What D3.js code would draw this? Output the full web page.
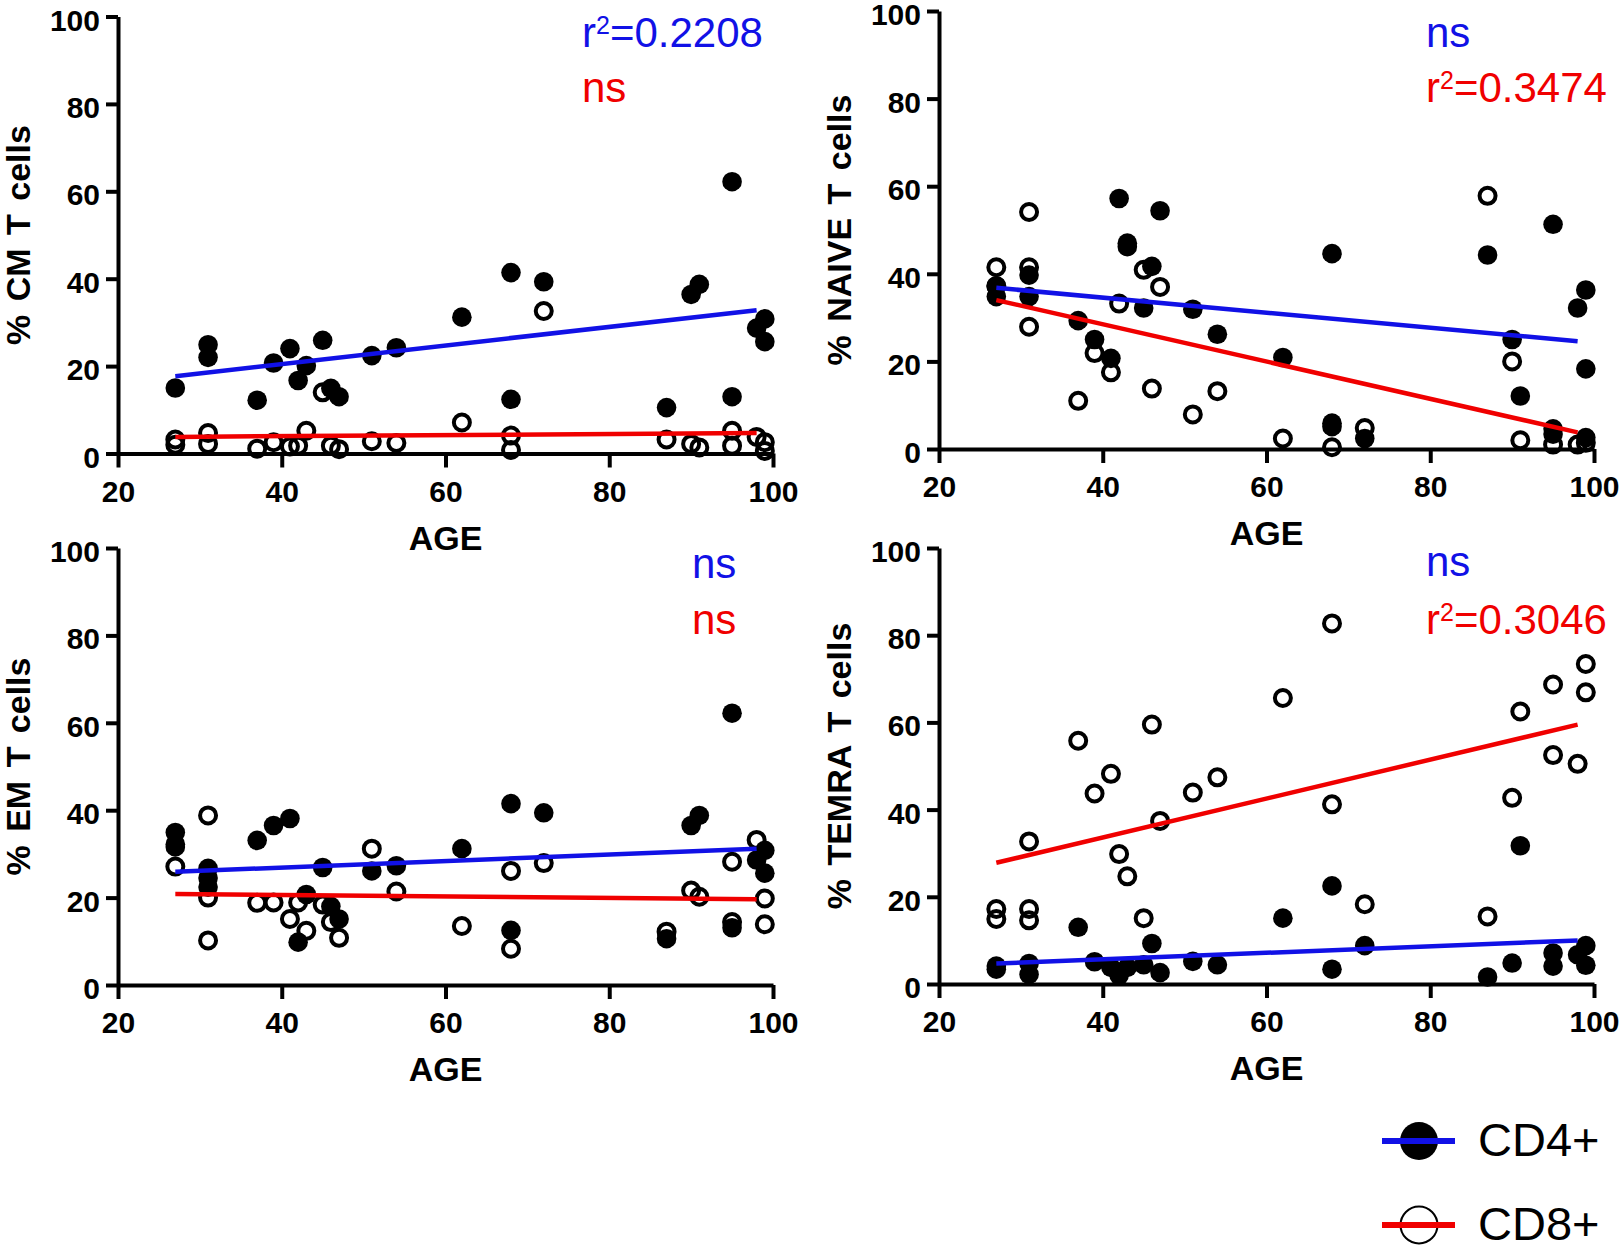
<!DOCTYPE html>
<html><head><meta charset="utf-8">
<script src="https://cdn.jsdelivr.net/npm/d3@7"></script>
<style>
body{margin:0;background:#fff}
svg{display:block}
text{font-family:"Liberation Sans",Arial,Helvetica,sans-serif}
</style>
</head><body>
<svg id="c" width="1622" height="1246"></svg>
<script>
// ---------- DATA ----------
const ageTicks = [20, 40, 60, 80, 100];
const pctTicks = [0, 20, 40, 60, 80, 100];
const xTitle = "AGE";
const yTitles = ["% CM T cells", "% NAIVE T cells", "% EM T cells", "% TEMRA T cells"];
const seriesNames = ["CD4+", "CD8+"];

// [age, %] pairs, CD4+ (filled) and CD8+ (open)
const cmCD4 = [[27,15.0],[31,24.9],[31,22.0],[37,12.2],[39,20.7],[41,24.0],[42,16.7],[43,20.1],[45,25.9],[46,14.9],[47,13.0],[51,22.4],[54,24.2],[62,31.2],[68,41.4],[68,12.4],[72,39.3],[87,10.5],[90,36.4],[91,38.7],[95,62.2],[95,13.0],[98,28.7],[99,30.8],[99,25.6]];
const cmCD8 = [[27,3.2],[27,2.0],[31,4.7],[31,2.2],[37,1.1],[39,2.6],[41,1.6],[42,1.8],[43,5.2],[45,14.0],[46,1.8],[47,1.0],[51,2.8],[54,2.4],[62,7.1],[68,4.1],[68,0.8],[72,32.6],[87,3.2],[90,2.2],[91,1.4],[95,5.2],[95,1.8],[98,3.8],[99,2.6],[99,0.6]];
const naiveCD4 = [[27,37.2],[27,34.8],[31,39.7],[31,34.8],[37,29.3],[39,25.0],[41,20.7],[42,57.2],[43,47.0],[43,46.2],[45,32.2],[46,41.7],[47,54.4],[51,31.9],[54,26.2],[62,20.9],[68,44.6],[68,5.9],[68,5.1],[72,2.4],[87,44.3],[90,25.0],[91,12.1],[95,51.3],[95,4.6],[95,3.4],[98,32.2],[99,36.3],[99,18.3],[99,2.6]];
const naiveCD8 = [[27,41.5],[27,37.2],[31,54.1],[31,41.5],[31,27.9],[37,11.0],[39,21.9],[41,17.5],[42,33.2],[45,40.9],[46,13.8],[47,37.0],[51,7.9],[54,13.2],[62,2.4],[68,0.4],[72,4.8],[87,57.8],[90,20.0],[91,2.0],[95,1.0],[98,1.0],[99,1.4]];
const emCD4 = [[27,34.9],[27,32.2],[27,31.6],[31,26.7],[31,24.5],[31,22.4],[37,33.1],[39,36.5],[41,38.1],[42,9.8],[43,20.7],[45,26.9],[46,18.0],[47,15.1],[51,26.1],[54,27.3],[62,31.2],[68,41.5],[68,12.5],[72,39.4],[87,10.6],[90,36.5],[91,38.8],[95,62.2],[95,13.1],[98,28.6],[99,30.8],[99,25.6]];
const emCD8 = [[27,27.1],[31,38.8],[31,20.0],[31,10.2],[37,18.8],[39,18.9],[41,15.1],[42,18.9],[43,12.4],[45,18.4],[46,14.4],[47,10.8],[51,31.2],[54,21.4],[62,13.5],[68,26.1],[68,8.3],[72,27.9],[87,12.2],[90,21.6],[91,20.2],[95,28.2],[95,14.4],[98,33.2],[99,19.8],[99,13.9]];
const temraCD4 = [[27,4.1],[27,3.4],[31,4.7],[31,2.2],[37,13.0],[39,5.1],[41,3.8],[42,2.0],[43,3.8],[45,4.4],[46,9.3],[47,2.6],[51,5.2],[54,4.4],[62,15.1],[68,22.5],[68,3.4],[72,8.8],[87,1.6],[90,4.8],[91,31.7],[95,7.1],[95,4.1],[98,6.7],[99,8.8],[99,4.3]];
const temraCD8 = [[27,17.2],[27,14.9],[31,17.2],[31,14.6],[31,32.7],[37,55.8],[39,43.7],[41,48.2],[42,29.8],[43,24.7],[45,15.1],[46,59.5],[47,37.4],[51,43.9],[54,47.4],[62,65.6],[68,82.7],[68,41.2],[72,18.3],[87,15.5],[90,42.7],[91,62.5],[95,68.7],[95,52.5],[98,50.5],[99,73.4],[99,66.9]];

// regression line end points [age, %]
const cmFitCD4 = [[27,17.7],[98,32.8]];
const cmFitCD8 = [[27,3.8],[98,4.7]];
const naiveFitCD4 = [[27,36.8],[98,24.6]];
const naiveFitCD8 = [[27,34.0],[98,3.8]];
const emFitCD4 = [[27,25.9],[98,31.2]];
const emFitCD8 = [[27,20.8],[98,19.6]];
const temraFitCD4 = [[27,4.7],[98,10.0]];
const temraFitCD8 = [[27,27.8],[98,59.5]];

// significance labels [CD4+, CD8+]
const cmStats = ["r2=0.2208", "ns"];
const naiveStats = ["ns", "r2=0.3474"];
const emStats = ["ns", "ns"];
const temraStats = ["ns", "r2=0.3046"];

// ---------- LAYOUT ----------
const BLUE = "#1111e6", RED = "#f00000";
const panels = [
  {x0:118, x1:773, yb:453.5, yt:16.5, title:yTitles[0], cd4:cmCD4, cd8:cmCD8, f4:cmFitCD4, f8:cmFitCD8, stats:cmStats, sx:582, sy:[47,102]},
  {x0:939, x1:1594, yb:449, yt:11, title:yTitles[1], cd4:naiveCD4, cd8:naiveCD8, f4:naiveFitCD4, f8:naiveFitCD8, stats:naiveStats, sx:1426, sy:[47,102]},
  {x0:118, x1:773, yb:985, yt:548, title:yTitles[2], cd4:emCD4, cd8:emCD8, f4:emFitCD4, f8:emFitCD8, stats:emStats, sx:692, sy:[578,633.6]},
  {x0:939, x1:1594, yb:984, yt:548, title:yTitles[3], cd4:temraCD4, cd8:temraCD8, f4:temraFitCD4, f8:temraFitCD8, stats:temraStats, sx:1426, sy:[576,633.6]}
];

const svg = d3.select("#c");

function statText(sel, s) {
  if (s.startsWith("r2=")) {
    sel.append("tspan").text("r");
    sel.append("tspan").attr("font-size", 25).attr("dy", -13).text("2");
    sel.append("tspan").attr("dy", 13).text(s.slice(2));
  } else sel.text(s);
}

panels.forEach(p => {
  const x = d3.scaleLinear().domain([20, 100]).range([p.x0, p.x1]);
  const y = d3.scaleLinear().domain([0, 100]).range([p.yb, p.yt]);
  const g = svg.append("g");

  const ax = g.append("g").attr("transform", `translate(0,${p.yb})`)
    .call(d3.axisBottom(x).tickValues(ageTicks).tickSize(14).tickSizeOuter(0).tickPadding(13).tickFormat(d3.format("d")));
  const ay = g.append("g").attr("transform", `translate(${p.x0},0)`)
    .call(d3.axisLeft(y).tickValues(pctTicks).tickSize(12).tickSizeOuter(0).tickPadding(6).tickFormat(d3.format("d")));
  [ax, ay].forEach(a => {
    a.attr("font-family", null).attr("font-size", null);
    a.selectAll("path.domain").attr("stroke", "#000").attr("stroke-width", 4);
    a.selectAll(".tick line").attr("stroke", "#000").attr("stroke-width", 4);
    a.selectAll(".tick text").attr("fill", "#000").attr("font-size", 30).attr("font-weight", "bold");
  });
  ay.selectAll(".tick text").attr("dy", "0.45em");

  // axis titles
  g.append("text").attr("x", (p.x0 + p.x1) / 2).attr("y", p.yb + 96)
    .attr("text-anchor", "middle").attr("font-size", 34).attr("font-weight", "bold").text(xTitle);
  g.append("text").attr("transform", `translate(${p.x0 - 88},${(p.yb + p.yt) / 2}) rotate(-90)`)
    .attr("text-anchor", "middle").attr("font-size", 34).attr("font-weight", "bold")
    .attr("word-spacing", 4).text(p.title);

  // points
  g.selectAll("circle.o").data(p.cd8).join("circle").attr("class", "o")
    .attr("cx", d => x(d[0])).attr("cy", d => y(d[1])).attr("r", 8)
    .attr("fill", "none").attr("stroke", "#000").attr("stroke-width", 4);
  g.selectAll("circle.f").data(p.cd4).join("circle").attr("class", "f")
    .attr("cx", d => x(d[0])).attr("cy", d => y(d[1])).attr("r", 9.8).attr("fill", "#000");

  // regression lines
  const line = d3.line().x(d => x(d[0])).y(d => y(d[1]));
  g.append("path").attr("d", line(p.f8)).attr("stroke", RED).attr("stroke-width", 4.5).attr("fill", "none");
  g.append("path").attr("d", line(p.f4)).attr("stroke", BLUE).attr("stroke-width", 4.5).attr("fill", "none");

  // stats
  [BLUE, RED].forEach((c, i) => {
    const t = g.append("text").attr("x", p.sx).attr("y", p.sy[i]).attr("font-size", 42).attr("fill", c);
    statText(t, p.stats[i]);
  });
});

// legend
const lg = svg.append("g");
const legItems = [{name: seriesNames[0], color: BLUE, filled: true, y: 1141}, {name: seriesNames[1], color: RED, filled: false, y: 1225}];
legItems.forEach(it => {
  if (it.filled) lg.append("circle").attr("cx", 1419).attr("cy", it.y).attr("r", 19).attr("fill", "#000");
  else lg.append("circle").attr("cx", 1419).attr("cy", it.y).attr("r", 18.5).attr("fill", "none").attr("stroke", "#000").attr("stroke-width", 2);
  lg.append("line").attr("x1", 1382).attr("x2", 1455).attr("y1", it.y).attr("y2", it.y).attr("stroke", it.color).attr("stroke-width", 6);
  lg.append("text").attr("x", 1478).attr("y", it.y + 15).attr("font-size", 47).attr("fill", "#000").text(it.name);
});
</script>
</body></html>
